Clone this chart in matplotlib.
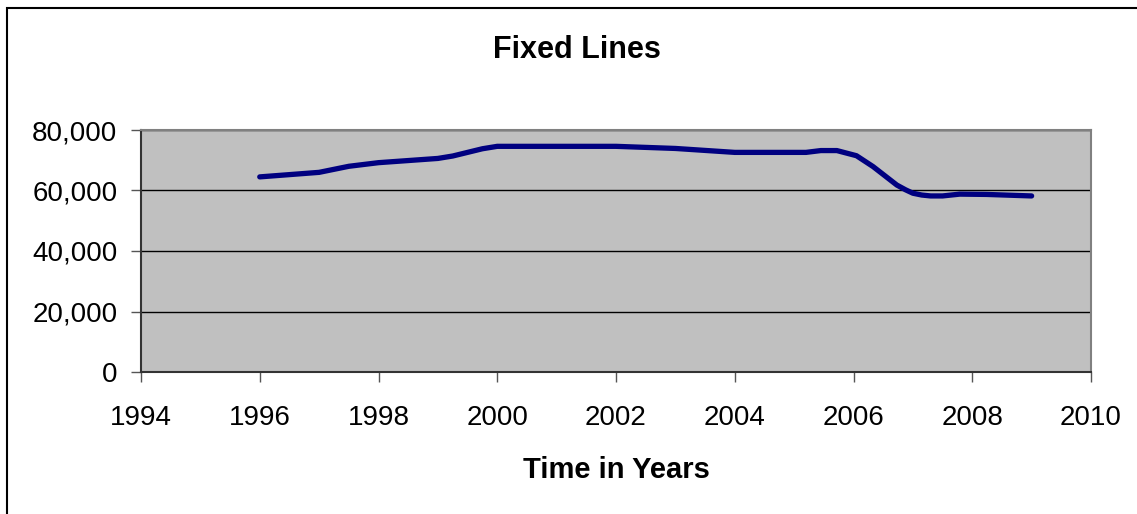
import matplotlib
matplotlib.use("Agg")
import matplotlib.pyplot as plt
from matplotlib.patches import Rectangle
from matplotlib.ticker import FuncFormatter, MultipleLocator

plt.rcParams['font.family'] = ['Liberation Sans', 'DejaVu Sans']

# values
years = [1996, 1997, 1997.5, 1998, 1999, 1999.25, 1999.75, 2000, 2001, 2002,
         2003, 2004, 2005.2, 2005.45, 2005.72, 2006.05, 2006.33, 2006.73,
         2006.88, 2007.0, 2007.15, 2007.3, 2007.5, 2007.79, 2008.24, 2009]
lines = [64500, 66000, 68000, 69200, 70600, 71400, 73800, 74600, 74600, 74600,
         73900, 72600, 72600, 73200, 73200, 71500, 67900, 61800,
         60200, 59100, 58500, 58200, 58200, 58800, 58700, 58200]

W, H = 1137, 514
fig = plt.figure(figsize=(W / 100, H / 100), dpi=100)

# chart area frame (runs off the right and bottom edge like the original)
fig.patches.append(Rectangle((7 / W, -0.1), 1.2, 1.1 - 8 / H, transform=fig.transFigure,
                             fill=False, edgecolor='black', linewidth=1.5))

ax = fig.add_axes([141 / W, 1 - 372 / H, 950 / W, 242 / H])
ax.set_facecolor('#c0c0c0')

ax.plot(years, lines, color='#000080', linewidth=3.8,
        solid_joinstyle='round', solid_capstyle='round')

ax.set_xlim(1994, 2010)
ax.set_ylim(0, 80000)
ax.xaxis.set_major_locator(MultipleLocator(2))
ax.yaxis.set_major_locator(MultipleLocator(20000))
ax.yaxis.set_major_formatter(FuncFormatter(lambda v, p: '{:,.0f}'.format(v)))

ax.grid(axis='y', color='black', linewidth=1)
ax.set_axisbelow(True)

for s in ['top', 'right']:
    ax.spines[s].set_color('#808080')
    ax.spines[s].set_linewidth(1.5)
for s in ['left', 'bottom']:
    ax.spines[s].set_color('#333333')
    ax.spines[s].set_linewidth(1.5)

ax.tick_params(axis='both', direction='out', length=7, width=1, color='#555555',
               labelsize=20, labelcolor='black')
ax.tick_params(axis='x', pad=17)
ax.tick_params(axis='y', pad=10)

fig.text(577 / W, 1 - 58 / H, 'Fixed Lines', ha='center', va='baseline',
         fontsize=22, fontweight='bold')
fig.text(616 / W, 1 - 478 / H, 'Time in Years', ha='center', va='baseline',
         fontsize=21, fontweight='bold')

fig.savefig('out.png', dpi=100)
